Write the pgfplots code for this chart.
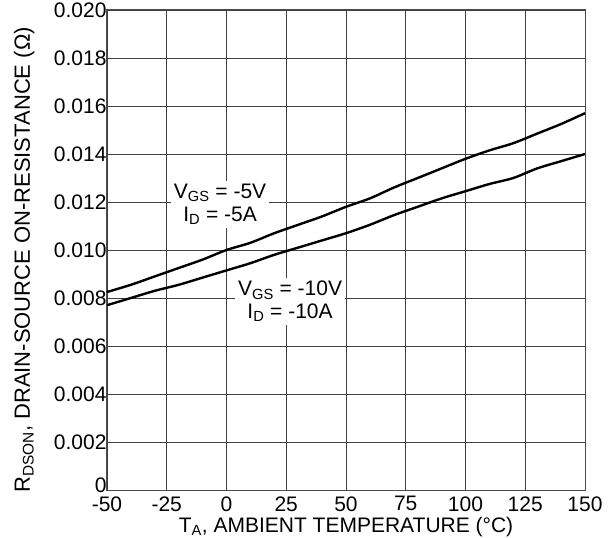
\documentclass[border=0pt]{standalone}
\usepackage{pgfplots}
\pgfplotsset{compat=1.18}
\usepackage{fontspec}
\setmainfont{Liberation Sans}
\begin{document}
\begin{tikzpicture}
\begin{axis}[
  scale only axis,
  width=478bp, height=480bp,
  xmin=-50, xmax=150, ymin=0, ymax=0.020,
  xtick={-50,-25,0,25,50,75,100,125,150},
  xticklabels={-50,-25,0,25,50,75,100,125,150},
  ytick={0,0.002,0.004,0.006,0.008,0.010,0.012,0.014,0.016,0.018,0.020},
  yticklabels={\raisebox{9bp}{0},0.002,0.004,0.006,0.008,0.010,0.012,0.014,0.016,0.018,0.020},
  scaled y ticks=false,
  grid=major,
  major grid style={black!75, line width=0.8bp},
  axis line style={black!70, line width=1bp},
  tick style={draw=none},
  font=\fontsize{21bp}{24bp}\selectfont,
  tick label style={font=\fontsize{21bp}{24bp}\selectfont},
  xticklabel style={yshift=-3bp},
  yticklabel style={xshift=3bp},
  /pgf/number format/assume math mode=true,
  xlabel={T\textsubscript{A}, AMBIENT TEMPERATURE (°C)},
  ylabel={R\textsubscript{DSON}, DRAIN-SOURCE ON-RESISTANCE (Ω)},
  xlabel style={at={(rel axis cs:0.5,0)}, anchor=base, yshift=-42bp, font=\fontsize{21bp}{24bp}\selectfont},
  ylabel style={at={(rel axis cs:0,0.5)}, anchor=base, yshift=77bp, xshift=-10bp, font=\fontsize{22bp}{24bp}\selectfont},
  clip=false,
]
\addplot[black, line width=2.4bp, smooth] coordinates {
(-50,0.00825) (-40,0.00855) (-30,0.00890) (-20,0.00925) (-10,0.00960)
(0,0.01000) (10,0.01030) (20,0.01070) (30,0.01105) (40,0.01140)
(50,0.01180) (60,0.01215) (70,0.01260) (80,0.01300) (90,0.01340)
(100,0.01380) (110,0.01415) (120,0.01445) (130,0.01485) (140,0.01525)
(150,0.01570)
};
\addplot[black, line width=2.4bp, smooth] coordinates {
(-50,0.00770) (-40,0.00800) (-30,0.00830) (-20,0.00855) (-10,0.00885)
(0,0.00915) (10,0.00945) (20,0.00980) (30,0.01010) (40,0.01040)
(50,0.01070) (60,0.01105) (70,0.01145) (80,0.01180) (90,0.01215)
(100,0.01245) (110,0.01275) (120,0.01300) (130,0.01340) (140,0.01370)
(150,0.01400)
};
\node[fill=white, align=center, inner sep=3bp, font=\fontsize{21bp}{23bp}\selectfont] at (axis cs:-2.7,0.01190) {V\textsubscript{GS} = -5V\\I\textsubscript{D} = -5A};
\node[fill=white, align=center, inner sep=3bp, font=\fontsize{21bp}{23bp}\selectfont] at (axis cs:26.6,0.00785) {V\textsubscript{GS} = -10V\\I\textsubscript{D} = -10A};
\end{axis}
\pgfresetboundingbox
\path ([xshift=-107bp,yshift=-48bp]current axis.south west) rectangle ([xshift=25bp,yshift=10bp]current axis.north east);
\end{tikzpicture}
\end{document}
